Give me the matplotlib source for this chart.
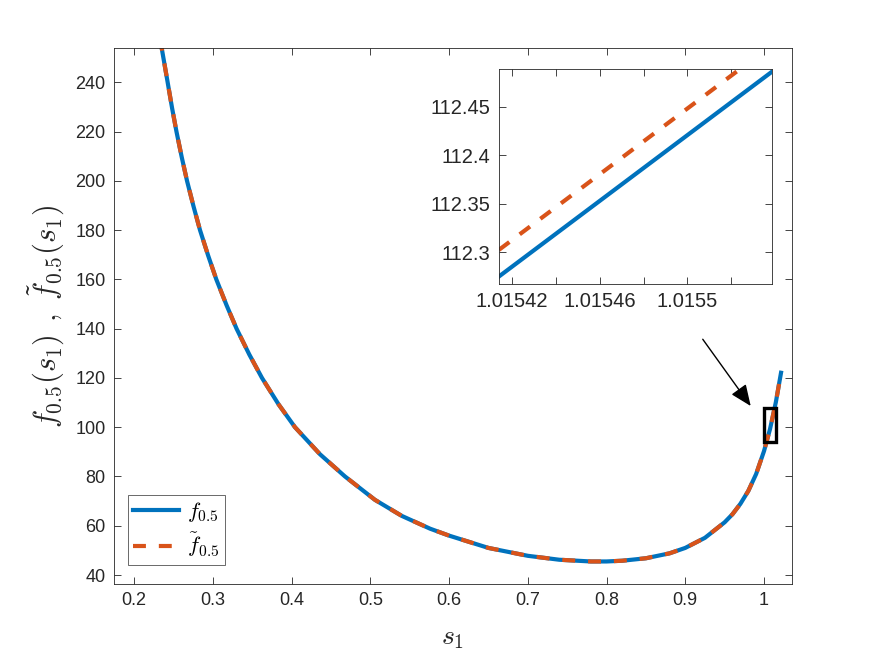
import matplotlib
matplotlib.use("Agg")
import matplotlib.pyplot as plt
from matplotlib.patches import Rectangle

plt.rcParams['font.family'] = ['Liberation Sans', 'DejaVu Sans']
plt.rcParams['mathtext.fontset'] = 'cm'

# main curve
s1 = [0.2330, 0.2352, 0.2427, 0.2483, 0.2539, 0.2606, 0.2673, 0.2756, 0.2838,
      0.2942, 0.3045, 0.3174, 0.3302, 0.3464, 0.3625, 0.3835, 0.4044, 0.4362,
      0.4679, 0.5060, 0.5400, 0.5760, 0.6000, 0.6500, 0.7000, 0.7400, 0.7800,
      0.8000, 0.8200, 0.8500, 0.8800, 0.9000, 0.9250, 0.9500, 0.9600, 0.9700,
      0.9800, 0.9900, 1.0000, 1.0076, 1.0150, 1.0216]
f_vals = [258.0, 253.8, 240.0, 229.6, 220.0, 209.6, 200.0, 189.6, 180.0,
          169.6, 160.0, 149.6, 140.0, 129.5, 120.0, 109.3, 100.0, 89.0,
          80.0, 70.5, 64.0, 58.8, 56.0, 51.0, 47.8, 46.2, 45.5,
          45.5, 45.8, 46.8, 48.8, 51.0, 55.1, 61.4, 64.7, 68.9,
          74.1, 81.0, 90.3, 99.2, 110.1, 122.1]

# zoomed inset
inset_s = [1.015414, 1.0155386]
inset_f = [112.2753, 112.4860]
inset_ft = [112.3027, 112.5134]

inset_xticks = [1.01542, 1.01544, 1.01546, 1.01548, 1.0155, 1.01552]
inset_xlabels = ['1.01542', '', '1.01546', '', '1.0155', '']
inset_yticks = [112.3, 112.35, 112.4, 112.45]
inset_ylabels = ['112.3', '112.35', '112.4', '112.45']

main_xticks = [0.2, 0.3, 0.4, 0.5, 0.6, 0.7, 0.8, 0.9, 1.0]
main_xlabels = ['0.2', '0.3', '0.4', '0.5', '0.6', '0.7', '0.8', '0.9', '1']
main_yticks = [40, 60, 80, 100, 120, 140, 160, 180, 200, 220, 240]

BLUE = '#0072BD'
ORANGE = '#D95319'
AX = '#262626'

fig = plt.figure(figsize=(8.75, 6.57), dpi=100)
ax = fig.add_axes([0.1303, 0.1111, 0.7749, 0.8154])

def style(a, fs):
    for sp in a.spines.values():
        sp.set_color(AX)
        sp.set_linewidth(0.6)
    a.tick_params(direction='in', top=True, right=True, length=5, width=0.6,
                  color=AX, labelcolor=AX, labelsize=fs, pad=6)

DASH = (0, (3.1, 3.1))
ax.plot(s1, f_vals, color=BLUE, lw=3, label=r'$f_{0.5}$')
ax.plot(s1, f_vals, color=ORANGE, lw=3, ls=DASH, label=r'$\tilde{f}_{0.5}$')
ax.set_xlim(0.1746, 1.0356)
ax.set_ylim(36.35, 253.8)
ax.set_xticks(main_xticks)
ax.set_xticklabels(main_xlabels)
ax.set_yticks(main_yticks)
style(ax, 13)
ax.set_xlabel(r'$s_1$', fontsize=20, color=AX, labelpad=11)
ax.set_ylabel(r'$f_{0.5}(s_1)\;\,,\;\tilde{f}_{0.5}(s_1)$', fontsize=22, color=AX, labelpad=6)

leg = ax.legend(loc='lower left', bbox_to_anchor=(0.0202, 0.0355), fontsize=16,
                frameon=True, fancybox=False, edgecolor=AX, handlelength=2.05,
                borderpad=0.25, labelspacing=0.3, handletextpad=0.35,
                borderaxespad=0)
leg.get_frame().set_linewidth(0.6)

ax.add_patch(Rectangle((1.0004, 94.1), 0.0148, 13.8, fill=False, ec='black', lw=2.4, zorder=5))
ax.annotate('', xy=(0.9831, 108.6), xytext=(0.9222, 135.7),
            arrowprops=dict(arrowstyle='-|>,head_length=1.3,head_width=0.55',
                            color='black', lw=1.0, shrinkA=0, shrinkB=0))

ins = fig.add_axes([0.5703, 0.5677, 0.312, 0.3272])
ins.plot(inset_s, inset_f, color=BLUE, lw=3)
ins.plot(inset_s, inset_ft, color=ORANGE, lw=3, ls=DASH)
ins.set_xlim(1.015414, 1.0155386)
ins.set_ylim(112.2675, 112.4887)
ins.set_xticks(inset_xticks)
ins.set_xticklabels(inset_xlabels)
ins.set_yticks(inset_yticks)
ins.set_yticklabels(inset_ylabels)
style(ins, 14.5)

fig.savefig('out.png', dpi=100)
